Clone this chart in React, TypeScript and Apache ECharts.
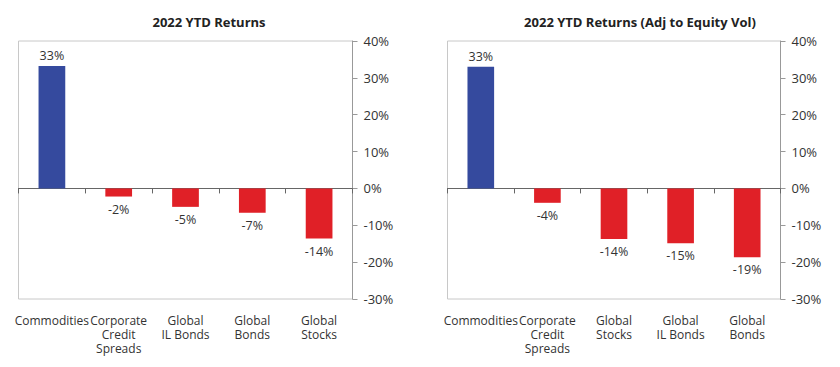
import React, { useEffect, useRef } from "react";
import * as echarts from "echarts";

const leftTitle = "2022 YTD Returns";
const rightTitle = "2022 YTD Returns (Adj to Equity Vol)";
const leftCategories = ["Commodities", "Corporate\nCredit\nSpreads", "Global\nIL Bonds", "Global\nBonds", "Global\nStocks"];
const leftValues = [33.2, -2.2, -5.0, -6.6, -13.6];
const rightCategories = ["Commodities", "Corporate\nCredit\nSpreads", "Global\nStocks", "Global\nIL Bonds", "Global\nBonds"];
const rightValues = [33.0, -3.9, -13.7, -14.9, -18.7];
const yMin = -30;
const yMax = 40;
const yStep = 10;

const BLUE = "#354a9e";
const RED = "#e02027";
const FONT = "Open Sans";

function barData(values: number[]) {
  return values.map((v) => ({
    value: v,
    itemStyle: { color: v >= 0 ? BLUE : RED },
    label: { position: v >= 0 ? "top" : "bottom", distance: v >= 0 ? 4 : 6 },
  }));
}

export default function App() {
  const ref = useRef<HTMLDivElement>(null);
  useEffect(() => {
    if (!ref.current) return;
    const chart = echarts.init(ref.current, undefined, { renderer: "svg" });
    const grids = [
      { left: 18.5, top: 41, width: 334, height: 258 },
      { left: 447.5, top: 41, width: 333, height: 258 },
    ];
    const cats = [leftCategories, rightCategories];
    const vals = [leftValues, rightValues];
    const xAxis: any[] = [];
    const yAxis: any[] = [];
    const series: any[] = [];
    grids.forEach((g, i) => {
      xAxis.push({
        type: "category",
        gridIndex: i,
        data: cats[i],
        position: "top",
        axisLine: { onZero: true, lineStyle: { color: "#666", width: 1 } },
        axisTick: { show: true, inside: true, length: 5, interval: 0, lineStyle: { color: "#666" } },
        axisLabel: { show: false },
      });
      xAxis.push({
        type: "category",
        gridIndex: i,
        data: cats[i],
        position: "bottom",
        axisLine: { show: false, onZero: false },
        axisTick: { show: false },
        axisLabel: {
          interval: 0,
          margin: 14,
          color: "#333",
          fontSize: 12,
          fontFamily: FONT,
          lineHeight: 14,
        },
      });
      yAxis.push({
        type: "value",
        gridIndex: i,
        position: "right",
        min: yMin,
        max: yMax,
        interval: yStep,
        splitLine: { show: false },
        axisLine: { show: true, lineStyle: { color: "#999" } },
        axisTick: { show: true, length: 5, lineStyle: { color: "#999" } },
        axisLabel: {
          formatter: "{value}%",
          color: "#333",
          fontSize: 13,
          fontFamily: FONT,
          margin: 11,
        },
      });
      series.push({
        type: "bar",
        xAxisIndex: i * 2 + 1,
        yAxisIndex: i,
        data: barData(vals[i]),
        barWidth: "40%",
        label: {
          show: true,
          color: "#333",
          fontSize: 12.5,
          fontFamily: FONT,
          formatter: (p: any) => Number(p.value).toFixed(0) + "%",
        },
      });
    });
    chart.setOption({
      animation: false,
      backgroundColor: "#fff",
      title: [
        {
          text: leftTitle,
          left: 204,
          top: 10,
          textAlign: "center",
          textStyle: { fontSize: 13, fontWeight: "bold", color: "#222", fontFamily: FONT },
        },
        {
          text: rightTitle,
          left: 635,
          top: 10,
          textAlign: "center",
          textStyle: { fontSize: 13, fontWeight: "bold", color: "#222", fontFamily: FONT },
        },
      ],
      grid: grids.map((g) => ({ ...g, show: true, borderColor: "#c8c8c8", borderWidth: 1, backgroundColor: "transparent" })),
      xAxis,
      yAxis,
      series,
    });
    return () => chart.dispose();
  }, []);
  return (
    <div
      ref={ref}
      style={{ position: "fixed", left: 0, top: 0, width: 840, height: 367, background: "#fff" }}
    />
  );
}
